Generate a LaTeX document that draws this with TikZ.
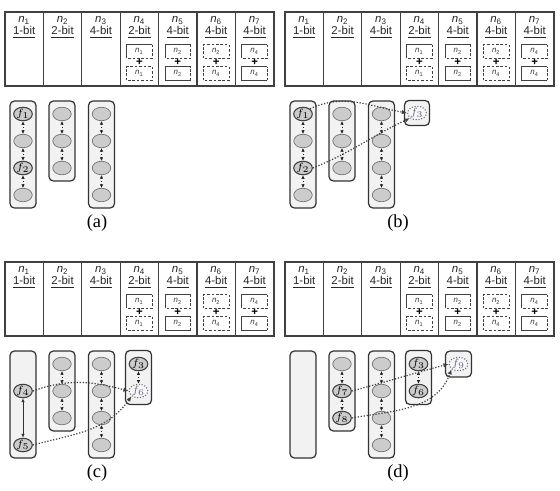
\documentclass[tikz,border=0pt]{standalone}
\usepackage{fontspec}
\setmainfont{Liberation Serif}
\setsansfont{Liberation Sans}
\newfontfamily\tabfont{Liberation Sans}
\usetikzlibrary{shapes.geometric,arrows.meta}

% edges of the small part boxes
\newcommand\halfdash[1]{%
  \draw[partline] (#1.south west) |- (#1.north east);
  \draw[partline,dashpart] (#1.north east) |- (#1.south west);}
\newcommand\rightdash[1]{%
  \draw[partline] (#1.north east) -| (#1.south west) -- (#1.south east);
  \draw[partline,dashpart] (#1.south east) -- (#1.north east);}
\newcommand\alldash[1]{%
  \draw[partline,dashpart] (#1.south west) rectangle (#1.north east);}

% table of the seven nodes, #1 = panel prefix
\newcommand\bittable[1]{%
  \draw[tabline] (5,-12) rectangle (274,-86);
  \foreach \col in {1,...,6}
    \draw[tabline] ({5+38.4*\col},-12) -- ({5+38.4*\col},-86);
  \foreach \col/\bits in {1/1,2/2,3/4,4/2,5/4,6/4,7/4}
    \node[colhead] (#1-n\col) at ({5+38.4*(\col-0.5)},-27.5)
      {{\itshape n}\textsubscript{\col}\\\underline{\bits-bit}};
  % summed parts
  \foreach \col/\up/\lo in {4/1/1,5/2/2,6/2/4,7/4/4} {
    \node[part] (#1-u\col) at ({5+38.4*(\col-0.5)},-51.5) {{\itshape n}\textsubscript{\up}};
    \node[part] (#1-l\col) at ({5+38.4*(\col-0.5)},-73.5) {{\itshape n}\textsubscript{\lo}};
    \node[plus] (#1-p\col) at ({5+38.4*(\col-0.5)},-62.5) {+};
  }
  \halfdash{#1-u4}\alldash{#1-l4}
  \halfdash{#1-u5}\rightdash{#1-l5}
  \alldash{#1-u6}\alldash{#1-l6}
  \halfdash{#1-u7}\rightdash{#1-l7}
}

\begin{document}
\begin{tikzpicture}[x=0.02cm, y=0.02cm,
    tabline/.style={draw=black!75, line width=0.7pt},
    colhead/.style={font=\tabfont\fontsize{6.5}{6.6}\selectfont, align=center, text=black!85, inner sep=0pt},
    part/.style={minimum width=0.5cm, minimum height=0.26cm, inner sep=0pt, font=\tabfont\fontsize{4.5}{5}\selectfont, text=black!80},
    partline/.style={draw=black!75, line width=0.5pt},
    dashpart/.style={dash pattern=on 1.5pt off 1pt},
    plus/.style={font=\tabfont\bfseries\fontsize{6.5}{6.5}\selectfont, inner sep=0pt},
    grp/.style={draw=black!80, fill=black!5, rounded corners=2.5pt, line width=0.7pt, minimum width=0.52cm, inner sep=0pt},
    cell/.style={ellipse, draw=black!55, fill=black!20, minimum width=0.37cm, minimum height=0.27cm, inner sep=0pt, font=\fontsize{6}{6}\selectfont},
    fcell/.style={cell, draw=black!75, line width=0.6pt},
    newcell/.style={cell, draw=black!60, densely dotted, line width=0.6pt, fill=blue!3, text=black!60},
    link/.style={{Latex[length=2pt,width=2pt]}-{Latex[length=2pt,width=2pt]}, densely dotted, draw=black!85, line width=0.55pt},
    longlink/.style={{Latex[length=2.2pt,width=2pt]}-{Latex[length=2.2pt,width=2pt]}, draw=black!80, line width=0.5pt},
    jump/.style={-{Latex[length=3pt,width=2.5pt]}, densely dotted, draw=black!75, line width=0.7pt},
    caption/.style={font=\fontsize{10.5}{12}\selectfont}]
  \useasboundingbox (0,0) rectangle (560,-490);

  % (a)
  \begin{scope}
    \bittable{a}
    \node[grp, minimum height=2.14cm] (a-g1) at (23,-154.5) {};
    \node[grp, minimum height=1.6cm] (a-g2) at (62,-141) {};
    \node[grp, minimum height=2.14cm] (a-g3) at (101.5,-154.5) {};
    \node[fcell] (a-f1) at (23,-114) {$f_1$};
    \node[cell] (a-e1) at (23,-141) {};
    \node[fcell] (a-f2) at (23,-168) {$f_2$};
    \node[cell] (a-e2) at (23,-195) {};
    \foreach \r in {1,2,3} \node[cell] (a-m\r) at (62,{-87-27*\r}) {};
    \foreach \r in {1,...,4} \node[cell] (a-r\r) at (101.5,{-87-27*\r}) {};
    \foreach \p/\q in {f1/e1,e1/f2,f2/e2,m1/m2,m2/m3,r1/r2,r2/r3,r3/r4}
      \draw[link] (a-\p) -- (a-\q);
    \node[caption] (a-cap) at (97,-223) {(a)};
  \end{scope}

  % (b)
  \begin{scope}[shift={(280,0)}]
    \bittable{b}
    \node[grp, minimum height=2.14cm] (b-g1) at (23,-154.5) {};
    \node[grp, minimum height=1.6cm] (b-g2) at (62,-141) {};
    \node[grp, minimum height=2.14cm] (b-g3) at (101.5,-154.5) {};
    \node[grp, minimum width=0.5cm, minimum height=0.5cm] (b-g4) at (137,-113) {};
    \node[fcell] (b-f1) at (23,-114) {$f_1$};
    \node[cell] (b-e1) at (23,-141) {};
    \node[fcell] (b-f2) at (23,-168) {$f_2$};
    \node[cell] (b-e2) at (23,-195) {};
    \foreach \r in {1,2,3} \node[cell] (b-m\r) at (62,{-87-27*\r}) {};
    \foreach \r in {1,...,4} \node[cell] (b-r\r) at (101.5,{-87-27*\r}) {};
    \node[newcell] (b-f3) at (137,-113) {$f_3$};
    \foreach \p/\q in {f1/e1,e1/f2,f2/e2,m1/m2,m2/m3,r1/r2,r2/r3,r3/r4}
      \draw[link] (b-\p) -- (b-\q);
    \draw[jump] (b-f1.north east) to[out=25, in=170] (b-f3.west);
    \draw[jump] (b-f2.east) to[out=22, in=205] (b-f3.south west);
    \node[caption] (b-cap) at (118,-223) {(b)};
  \end{scope}

  % (c)
  \begin{scope}[shift={(0,-250)}]
    \bittable{c}
    \node[grp, minimum height=2.14cm] (c-g1) at (23,-154.5) {};
    \node[grp, minimum height=1.6cm] (c-g2) at (62,-141) {};
    \node[grp, minimum height=2.14cm] (c-g3) at (101.5,-154.5) {};
    \node[grp, minimum height=1.08cm] (c-g4) at (138.5,-127.5) {};
    \node[fcell] (c-f4) at (23,-141) {$f_4$};
    \node[fcell] (c-f5) at (23,-195) {$f_5$};
    \foreach \r in {1,2,3} \node[cell] (c-m\r) at (62,{-87-27*\r}) {};
    \foreach \r in {1,...,4} \node[cell] (c-r\r) at (101.5,{-87-27*\r}) {};
    \node[fcell] (c-f3) at (138.5,-114) {$f_3$};
    \node[newcell] (c-f6) at (138.5,-141) {$f_6$};
    \draw[longlink] (c-f4) -- (c-f5);
    \foreach \p/\q in {m1/m2,m2/m3,r1/r2,r2/r3,r3/r4,f3/f6}
      \draw[link] (c-\p) -- (c-\q);
    \draw[jump] (c-f4.east) to[out=20, in=165] (c-f6.west);
    \draw[jump] (c-f5.east) to[out=15, in=235] (c-f6.south west);
    \node[caption] (c-cap) at (97,-223) {(c)};
  \end{scope}

  % (d)
  \begin{scope}[shift={(280,-250)}]
    \bittable{d}
    \node[grp, minimum height=2.14cm] (d-g1) at (23,-154.5) {};
    \node[grp, minimum height=1.6cm] (d-g2) at (62,-141) {};
    \node[grp, minimum height=2.14cm] (d-g3) at (101.5,-154.5) {};
    \node[grp, minimum height=1.08cm] (d-g4) at (138.5,-127.5) {};
    \node[grp, minimum height=0.52cm] (d-g5) at (178.5,-114) {};
    \node[cell] (d-m1) at (62,-114) {};
    \node[fcell] (d-f7) at (62,-141) {$f_7$};
    \node[fcell] (d-f8) at (62,-168) {$f_8$};
    \foreach \r in {1,...,4} \node[cell] (d-r\r) at (101.5,{-87-27*\r}) {};
    \node[fcell] (d-f3) at (138.5,-114) {$f_3$};
    \node[fcell] (d-f6) at (138.5,-141) {$f_6$};
    \node[newcell] (d-f9) at (178.5,-114) {$f_9$};
    \foreach \p/\q in {m1/f7,f7/f8,r1/r2,r2/r3,r3/r4,f3/f6}
      \draw[link] (d-\p) -- (d-\q);
    \draw[jump] (d-f7.east) to[out=15, in=195] (d-f9.west);
    \draw[jump] (d-f8.east) to[out=10, in=250] (d-f9.south west);
    \node[caption] (d-cap) at (118,-223) {(d)};
  \end{scope}
\end{tikzpicture}
\end{document}
